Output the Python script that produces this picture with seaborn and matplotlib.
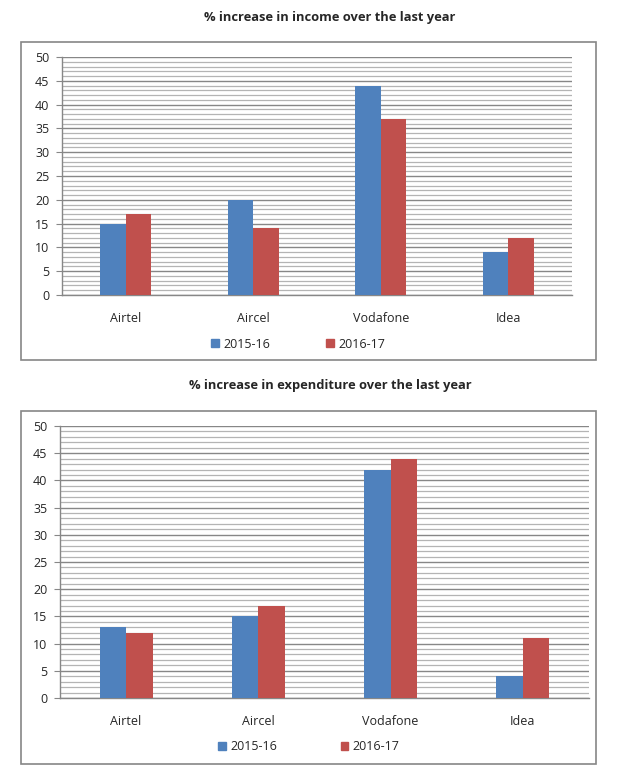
import pandas as pd
import matplotlib
matplotlib.use("Agg")
import matplotlib.pyplot as plt
from matplotlib.patches import Rectangle, Patch
from matplotlib.ticker import MultipleLocator
import seaborn as sns

operators = ["Airtel", "Aircel", "Vodafone", "Idea"]
years = ["2015-16", "2016-17"]
income_1516 = [15, 20, 44, 9]
income_1617 = [17, 14, 37, 12]
expend_1516 = [13, 15, 42, 4]
expend_1617 = [12, 17, 44, 11]
yticks = list(range(0, 51, 5))

colors = ["#4F81BD", "#C0504D"]

sns.set_style("white")
plt.rcParams["font.family"] = ["Open Sans", "DejaVu Sans"]

W, H = 618, 781
fig = plt.figure(figsize=(W / 100, H / 100), dpi=100)


def px_box(l, t, r, b):
    return [l / W, 1 - b / H, (r - l) / W, (b - t) / H]


def panel(vals_a, vals_b, title, frame, area, title_y, leg_y, leg_x, colsp):
    # outer frame like the excel chart area
    l, t, r, b = frame
    fig.patches.append(Rectangle((l / W, 1 - b / H), (r - l) / W, (b - t) / H,
                                 transform=fig.transFigure, fill=False,
                                 edgecolor="#868686", linewidth=1.2))
    fig.text(330 / W, 1 - title_y / H, title, ha="center", va="center",
             fontsize=9.3, fontweight="bold")

    df = pd.DataFrame({
        "operator": operators * 2,
        "year": [years[0]] * 4 + [years[1]] * 4,
        "value": vals_a + vals_b,
    })
    ax = fig.add_axes(px_box(*area))
    ax.set_axisbelow(True)
    sns.barplot(data=df, x="operator", y="value", hue="year", palette=colors,
                width=0.4, saturation=1, legend=False, ax=ax, zorder=3,
                linewidth=0)
    ax.set_ylim(0, 50)
    ax.set_xlim(-0.5, 3.5)
    ax.set_yticks(yticks)
    ax.yaxis.set_minor_locator(MultipleLocator(1))
    ax.grid(which="minor", axis="y", color="#B4B4B4", linewidth=0.9)
    ax.grid(which="major", axis="y", color="#878787", linewidth=1.0)
    ax.set_xlabel("")
    ax.set_ylabel("")
    for s in ["top", "right"]:
        ax.spines[s].set_visible(False)
    for s in ["left", "bottom"]:
        ax.spines[s].set_color("#878787")
        ax.spines[s].set_linewidth(1.0)
    ax.tick_params(axis="y", which="major", length=4, color="#878787",
                   labelsize=9, pad=5, left=True)
    ax.tick_params(axis="y", which="minor", length=0)
    ax.tick_params(axis="x", length=0, labelsize=9, pad=12)

    handles = [Patch(facecolor=c, edgecolor=c, label=y) for c, y in zip(colors, years)]
    fig.legend(handles=handles, loc="center", ncol=2, frameon=False,
               bbox_to_anchor=(leg_x / W, 1 - leg_y / H), fontsize=9,
               handlelength=0.6, handleheight=0.6, handletextpad=0.35,
               columnspacing=colsp)
    return ax


panel(income_1516, income_1617, "% increase in income over the last year",
      (21, 42, 596, 360), (62, 57, 572, 295), 17, 344, 298, 4.5)
panel(expend_1516, expend_1617, "% increase in expenditure over the last year",
      (21, 411, 596, 764), (60, 426, 589, 698), 385, 747, 309, 5.1)

fig.savefig("out.png", dpi=100)
